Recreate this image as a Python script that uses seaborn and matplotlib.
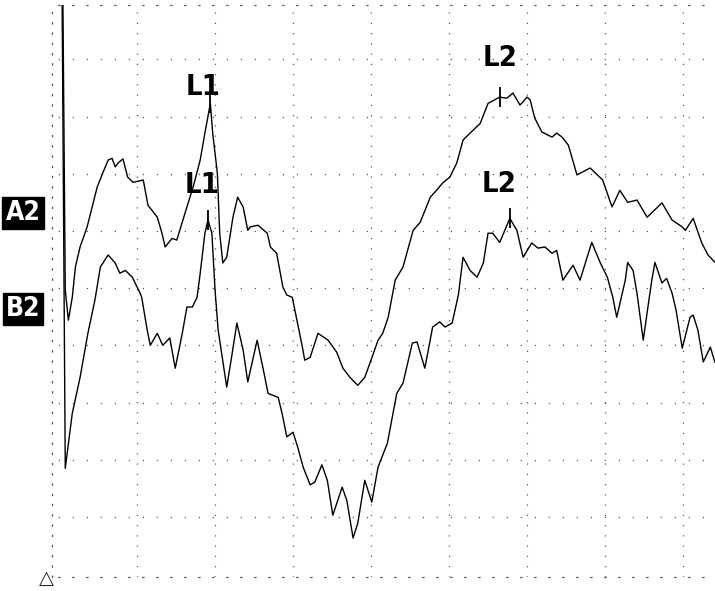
import numpy as np
import pandas as pd
import matplotlib
matplotlib.use('Agg')
import matplotlib.pyplot as plt
import seaborn as sns

# time in ms (10 ms / division), amplitude in divisions
a2_time = [0.5, 0.8, 1.2, 1.7, 2.1, 2.7, 3.6, 4.9, 5.6, 6.3,
           6.8, 7.2, 7.6, 8.2, 8.8, 9.5, 10.8, 11.4, 12.6, 13.2,
           13.6, 14.5, 15.1, 16.4, 17.2, 18.1, 18.7, 19.4, 19.7, 20.3,
           20.6, 21.0, 21.5, 22.3, 22.9, 23.6, 24.2, 24.5, 25.5, 26.7,
           27.1, 27.9, 28.7, 29.2, 29.9, 30.5, 31.2, 31.5, 32.2, 33.2,
           34.5, 35.6, 36.4, 37.3, 38.3, 39.2, 40.1, 40.9, 41.5, 42.2,
           43.1, 44.1, 45.4, 46.3, 47.6, 48.2, 49.2, 50.1, 51.0, 51.8,
           52.7, 54.0, 55.0, 56.5, 57.4, 58.2, 59.1, 60.0, 60.4, 61.0,
           61.9, 63.2, 63.8, 64.5, 65.3, 66.4, 68.1, 69.7, 70.9, 71.9,
           72.9, 74.1, 75.4, 77.3, 78.6, 79.9, 80.3, 81.3, 82.4, 83.2,
           84.1]
a2_amp = [5.0, -0.03, -0.56, -0.16, 0.37, 0.72, 1.07, 1.77, 2.01, 2.24,
          2.27, 2.12, 2.19, 2.26, 1.94, 1.85, 1.89, 1.45, 1.24, 0.96,
          0.72, 0.87, 0.84, 1.42, 1.77, 2.24, 2.71, 3.23, 2.71, 2.01,
          0.96, 0.44, 0.54, 1.24, 1.59, 1.42, 1.01, 1.07, 1.10, 0.96,
          0.72, 0.61, 0.02, -0.12, -0.16, -0.56, -1.03, -1.26, -1.21, -0.79,
          -0.91, -1.12, -1.40, -1.56, -1.70, -1.56, -1.22, -0.91, -0.79, -0.51,
          0.14, 0.37, 1.01, 1.15, 1.59, 1.68, 1.84, 1.94, 2.19, 2.59,
          2.71, 2.88, 3.23, 3.34, 3.32, 3.41, 3.20, 3.34, 3.29, 2.97,
          2.73, 2.64, 2.71, 2.64, 2.50, 1.98, 2.10, 1.89, 1.42, 1.71,
          1.50, 1.54, 1.24, 1.49, 1.19, 1.07, 1.01, 1.22, 0.79, 0.58,
          0.45]

b2_time = [0.4, 0.8, 1.7, 2.7, 3.7, 4.6, 5.3, 6.3, 7.2, 7.8,
           8.5, 9.4, 10.4, 10.6, 11.3, 11.7, 12.6, 13.3, 14.2, 14.9,
           15.8, 16.4, 17.1, 17.7, 18.1, 18.7, 19.1, 19.6, 20.0, 20.4,
           21.5, 22.2, 22.8, 23.6, 24.2, 25.4, 26.2, 26.8, 28.1, 28.6,
           29.2, 30.0, 30.6, 31.3, 32.2, 32.8, 33.7, 34.4, 35.1, 36.3,
           36.9, 37.7, 38.3, 39.2, 40.1, 40.9, 42.1, 43.3, 44.1, 45.3,
           45.9, 46.9, 47.9, 48.8, 49.5, 50.4, 51.2, 51.8, 52.7, 53.6,
           54.4, 55.0, 55.6, 56.5, 57.8, 58.7, 59.5, 60.6, 61.4, 62.3,
           63.2, 63.8, 64.6, 65.9, 66.8, 68.3, 69.4, 70.3, 71.0, 71.5,
           72.6, 72.9, 73.6, 74.1, 74.9, 75.5, 76.0, 76.4, 77.3, 77.9,
           78.6, 79.1, 79.9, 80.9, 81.3, 81.9, 82.6, 83.5, 84.1]
b2_amp = [5.0, -3.15, -2.19, -1.56, -0.79, -0.21, 0.37, 0.58, 0.44, 0.26,
          0.31, 0.19, -0.09, -0.16, -0.73, -1.00, -0.79, -1.00, -0.87, -1.40,
          -0.79, -0.33, -0.33, -0.16, 0.26, 0.96, 1.19, 0.96, -0.03, -0.73,
          -1.73, -1.14, -0.61, -1.08, -1.64, -0.91, -1.43, -1.84, -1.91, -2.19,
          -2.60, -2.52, -2.78, -3.13, -3.44, -3.39, -3.09, -3.36, -3.97, -3.48,
          -3.71, -4.37, -4.11, -3.36, -3.74, -3.13, -2.71, -1.84, -1.66, -0.96,
          -0.94, -1.40, -0.68, -0.59, -0.68, -0.61, -0.12, 0.54, 0.31, 0.19,
          0.44, 0.96, 0.96, 0.80, 1.22, 1.01, 0.54, 0.79, 0.70, 0.72,
          0.61, 0.66, 0.14, 0.40, 0.14, 0.80, 0.44, 0.19, -0.16, -0.51,
          0.14, 0.45, 0.31, -0.09, -0.91, -0.33, 0.14, 0.45, 0.09, 0.17,
          -0.09, -0.38, -1.05, -0.51, -0.47, -0.73, -1.29, -1.03, -1.30]

channel_names = ['A2', 'B2']
peak_names = ['L1', 'L2']
a2_peak_times = [19.4, 56.5]
b2_peak_times = [19.1, 57.8]

time_ticks = [10, 20, 30, 40, 50, 60, 70, 80]
amp_ticks = [-4, -3, -2, -1, 0, 1, 2, 3, 4]

NARROW = dict(family='DejaVu Sans', stretch='condensed')
DOT = '0.35'


def setup_grid(ax):
    # oscilloscope style dotted grid, 5 dots per division
    h_dots = (6.2, (1.0, 10.2))
    v_dots = (0.0, (1.0, 7.2))
    ax.set_xlim(-0.9, 84.1)
    ax.set_ylim(-5.05, 4.95)
    ax.set_xticks(time_ticks)
    ax.set_yticks(amp_ticks)
    ax.tick_params(length=0, labelbottom=False, labelleft=False)
    ax.xaxis.grid(True, color=DOT, lw=0.9, linestyle=v_dots)
    ax.yaxis.grid(True, color=DOT, lw=0.9, linestyle=h_dots)
    ax.set_xlabel('')
    ax.set_ylabel('')
    ax.spines['right'].set_visible(False)
    for side in ['top', 'bottom']:
        ax.spines[side].set_linestyle(h_dots)
        ax.spines[side].set_color(DOT)
        ax.spines[side].set_linewidth(0.9)
    ax.spines['left'].set_linestyle(v_dots)
    ax.spines['left'].set_color(DOT)
    ax.spines['left'].set_linewidth(0.9)


def main():
    sns.set_style('white')

    df = pd.concat([
        pd.DataFrame({'time': a2_time, 'amp': a2_amp, 'channel': 'A2'}),
        pd.DataFrame({'time': b2_time, 'amp': b2_amp, 'channel': 'B2'}),
    ], ignore_index=True)

    fig = plt.figure(figsize=(7.15, 5.91), dpi=100)
    ax = fig.add_axes([52 / 715, 14 / 591, 663 / 715, 572 / 591])

    sns.lineplot(data=df, x='time', y='amp', hue='channel',
                 palette=['black', 'black'], estimator=None, sort=False,
                 legend=False, lw=1.0, ax=ax)
    setup_grid(ax)

    # latency markers with labels
    offsets = {('A2', 'L1'): (-5, 12), ('A2', 'L2'): (0, 28),
               ('B2', 'L1'): (-4, 25), ('B2', 'L2'): (-8, 25)}
    traces = {'A2': (a2_time, a2_amp, a2_peak_times),
              'B2': (b2_time, b2_amp, b2_peak_times)}
    for ch in channel_names:
        t_arr, a_arr, peaks = traces[ch]
        for name, t in zip(peak_names, peaks):
            amp = np.interp(t, t_arr, a_arr)
            ax.plot([t], [amp], marker='|', ms=14, mew=1.3,
                    color='black', ls='none')
            ax.annotate(name, (t, amp), xytext=offsets[(ch, name)],
                        textcoords='offset points', ha='center',
                        va='center', fontsize=21, color='black',
                        fontweight='bold', **NARROW)

    # channel tags on the left
    tag_y = {'A2': 1 - 213 / 591, 'B2': 1 - 309 / 591}
    for ch in channel_names:
        fig.text(23 / 715, tag_y[ch], ch, color='white', ha='center',
                 va='center', fontsize=19, fontweight='bold', **NARROW,
                 bbox=dict(facecolor='black', edgecolor='black',
                           boxstyle='square,pad=0.12'))

    fig.text(46 / 715, 1 - 578 / 591, '\u25b3', ha='center', va='center',
             fontsize=14, family='DejaVu Sans')

    fig.savefig('out.png', dpi=100)


if __name__ == "__main__":
    main()
